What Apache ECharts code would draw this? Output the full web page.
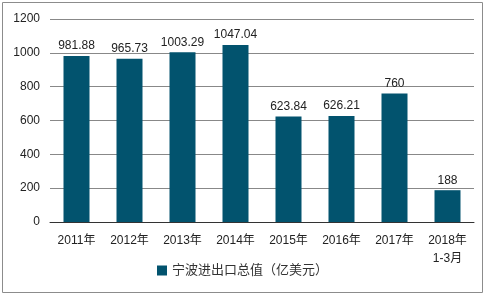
<!DOCTYPE html>
<html>
<head>
<meta charset="utf-8">
<script src="https://cdn.jsdelivr.net/npm/echarts@6/dist/echarts.min.js"></script>
<style>
  html, body { margin: 0; padding: 0; background: #fff; }
  #chart { width: 485px; height: 295px; }
</style>
</head>
<body>
<div id="chart"></div>
<script>
const categories = ['2011年', '2012年', '2013年', '2014年', '2015年', '2016年', '2017年', '2018年\n1-3月']
const values = [981.88, 965.73, 1003.29, 1047.04, 623.84, 626.21, 760, 188]
const valueLabels = ['981.88', '965.73', '1003.29', '1047.04', '623.84', '626.21', '760', '188']
const seriesName = '宁波进出口总值（亿美元）'

const font = '"Liberation Sans", "Noto Sans CJK SC", sans-serif'
const barColor = '#02536E'

let chart = echarts.init(document.getElementById('chart'), null, { renderer: 'canvas' })

chart.setOption({
    animation: false,
    textStyle: { fontFamily: font },
    graphic: [{
        type: 'rect',
        shape: { x: 2.5, y: 2.5, width: 480, height: 290 },
        style: { fill: 'none', stroke: '#8c8c8c', lineWidth: 1 },
        silent: true
    }],
    grid: { left: 50, right: 11, top: 19, bottom: 73 },
    legend: {
        bottom: 13,
        left: 'center',
        itemWidth: 10,
        itemHeight: 10,
        icon: 'rect',
        textStyle: { fontSize: 13, color: '#333', fontFamily: font }
    },
    xAxis: {
        type: 'category',
        data: categories,
        axisTick: { show: false },
        axisLine: { lineStyle: { color: '#333', width: 1 } },
        axisLabel: { color: '#222', fontSize: 12, margin: 10, lineHeight: 18, interval: 0 }
    },
    yAxis: {
        type: 'value',
        min: 0,
        max: 1200,
        interval: 200,
        axisLine: { show: false },
        axisTick: { show: false },
        axisLabel: { color: '#222', fontSize: 12, margin: 10, formatter: (v) => String(v) },
        splitLine: { lineStyle: { color: '#888', width: 1 } }
    },
    series: [{
        name: seriesName,
        type: 'bar',
        data: values,
        barWidth: 26,
        itemStyle: { color: barColor },
        label: {
            show: true,
            position: 'top',
            distance: 4,
            color: '#222',
            fontSize: 12,
            formatter: (p) => valueLabels[p.dataIndex]
        }
    }]
})
</script>
</body>
</html>
